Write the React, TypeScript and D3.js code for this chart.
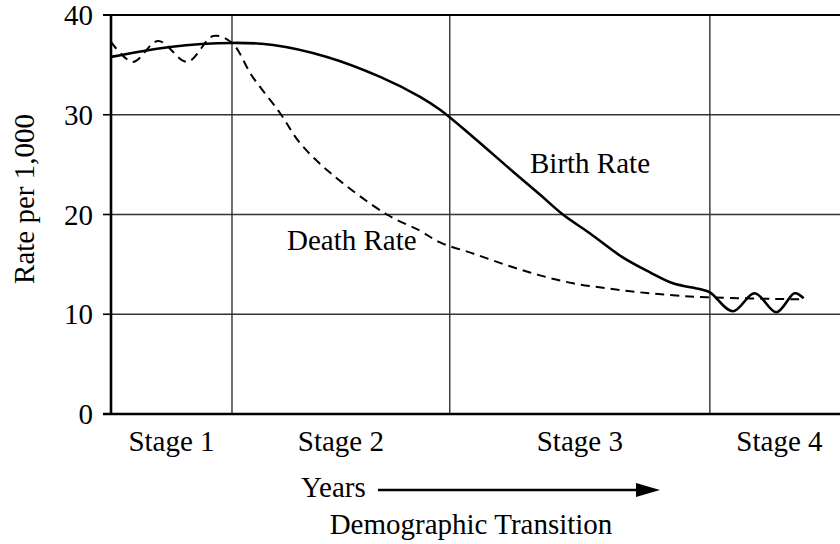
import React from 'react';
import * as d3 from 'd3';

// Birth rate (solid) — x in arbitrary "time" units, y per 1,000
const birthX = [0, 9.75, 20, 26.8, 35.7, 44.5, 51.1, 54.4, 59.8, 65.5, 70.9, 74.7, 79.2, 84.6, 89.1, 92.9, 97.4, 99.0, 102.8, 106.4, 110, 113, 114.5];
const birthY = [35.8, 36.8, 37.2, 37.0, 35.8, 33.8, 31.8, 30.5, 27.8, 24.8, 22.0, 20.0, 18.1, 15.7, 14.2, 13.1, 12.5, 12.2, 10.3, 12.1, 10.2, 12.1, 11.6];

// Death rate (dashed)
const deathX = [0, 3.6, 7.8, 12.6, 16.9, 20, 23.3, 27.9, 31.2, 36.2, 45.6, 51, 54.4, 59.8, 65.5, 70.9, 76.4, 82, 87.4, 92.9, 98.5, 113.9];
const deathY = [37.3, 35.3, 37.4, 35.3, 37.9, 37.2, 33.9, 30.2, 27.2, 24.2, 20.0, 18.4, 17.2, 16.1, 14.9, 13.9, 13.1, 12.6, 12.2, 11.9, 11.7, 11.5];

const stageBounds = [0, 20, 56, 99, 122];
const stageLabels = ['Stage 1', 'Stage 2', 'Stage 3', 'Stage 4'];
const yTicks = [0, 10, 20, 30, 40];

const FONT = '"Liberation Serif", "Times New Roman", serif';
const FS = 29;

export default function App() {
  const width = 840;
  const height = 544;

  const x = d3.scaleLinear().domain([0, 122]).range([111, 849]);
  const y = d3.scaleLinear().domain([0, 40]).range([414, 15]);

  const line = d3
    .line<[number, number]>()
    .x((d) => x(d[0]))
    .y((d) => y(d[1]))
    .curve(d3.curveCatmullRom.alpha(0.5));

  const birth = birthX.map((v, i) => [v, birthY[i]] as [number, number]);
  const death = deathX.map((v, i) => [v, deathY[i]] as [number, number]);

  const [x0, x1] = x.range();
  const tickLeft = x0 - 8;

  return (
    <svg
      width={width}
      height={height}
      style={{ position: 'absolute', left: 0, top: 0, background: '#fff' }}
      fontFamily={FONT}
    >
      <rect width={width} height={height} fill="#fff" />

      {/* ── gridlines ── */}
      {yTicks.slice(1, -1).map((t) => (
        <line key={'h' + t} x1={x0} x2={x1} y1={y(t)} y2={y(t)} stroke="#333" strokeWidth={1.4} />
      ))}
      {stageBounds.slice(1, -1).map((b) => (
        <line key={'v' + b} x1={x(b)} x2={x(b)} y1={y(40)} y2={y(0)} stroke="#333" strokeWidth={1.4} />
      ))}

      {/* ── frame: left axis, top & bottom ── */}
      <line x1={tickLeft} x2={x1} y1={y(40)} y2={y(40)} stroke="#000" strokeWidth={2.2} />
      <line x1={tickLeft} x2={x1} y1={y(0)} y2={y(0)} stroke="#000" strokeWidth={2.6} />
      <line x1={x0} x2={x0} y1={y(40)} y2={y(0)} stroke="#000" strokeWidth={2.6} />

      {/* ── y ticks ── */}
      {yTicks.map((t) => (
        <g key={'t' + t}>
          <line x1={tickLeft} x2={x0} y1={y(t)} y2={y(t)} stroke="#000" strokeWidth={1.6} />
          <text x={93} y={y(t)} dy="0.35em" textAnchor="end" fontSize={FS}>
            {t}
          </text>
        </g>
      ))}

      {/* ── curves ── */}
      <path d={line(death) || ''} fill="none" stroke="#000" strokeWidth={2} strokeDasharray="9,6" />
      <path d={line(birth) || ''} fill="none" stroke="#000" strokeWidth={2.6} />

      {/* ── curve labels ── */}
      <text x={530} y={173} fontSize={FS}>Birth Rate</text>
      <text x={287} y={250} fontSize={FS}>Death Rate</text>

      {/* ── stage labels ── */}
      {stageLabels.map((s, i) => (
        <text
          key={s}
          x={x((stageBounds[i] + stageBounds[i + 1]) / 2)}
          y={451}
          textAnchor="middle"
          fontSize={FS}
        >
          {s}
        </text>
      ))}

      {/* ── x title with arrow ── */}
      <text x={301} y={497} fontSize={FS}>Years</text>
      <line x1={378} x2={640} y1={490} y2={490} stroke="#000" strokeWidth={2.4} />
      <path d="M636,483 L660,490 L636,497 Z" fill="#000" />
      <text x={471} y={534} textAnchor="middle" fontSize={FS}>Demographic Transition</text>

      {/* ── y title ── */}
      <text transform="translate(34,199) rotate(-90)" textAnchor="middle" fontSize={FS}>
        Rate per 1,000
      </text>
    </svg>
  );
}
